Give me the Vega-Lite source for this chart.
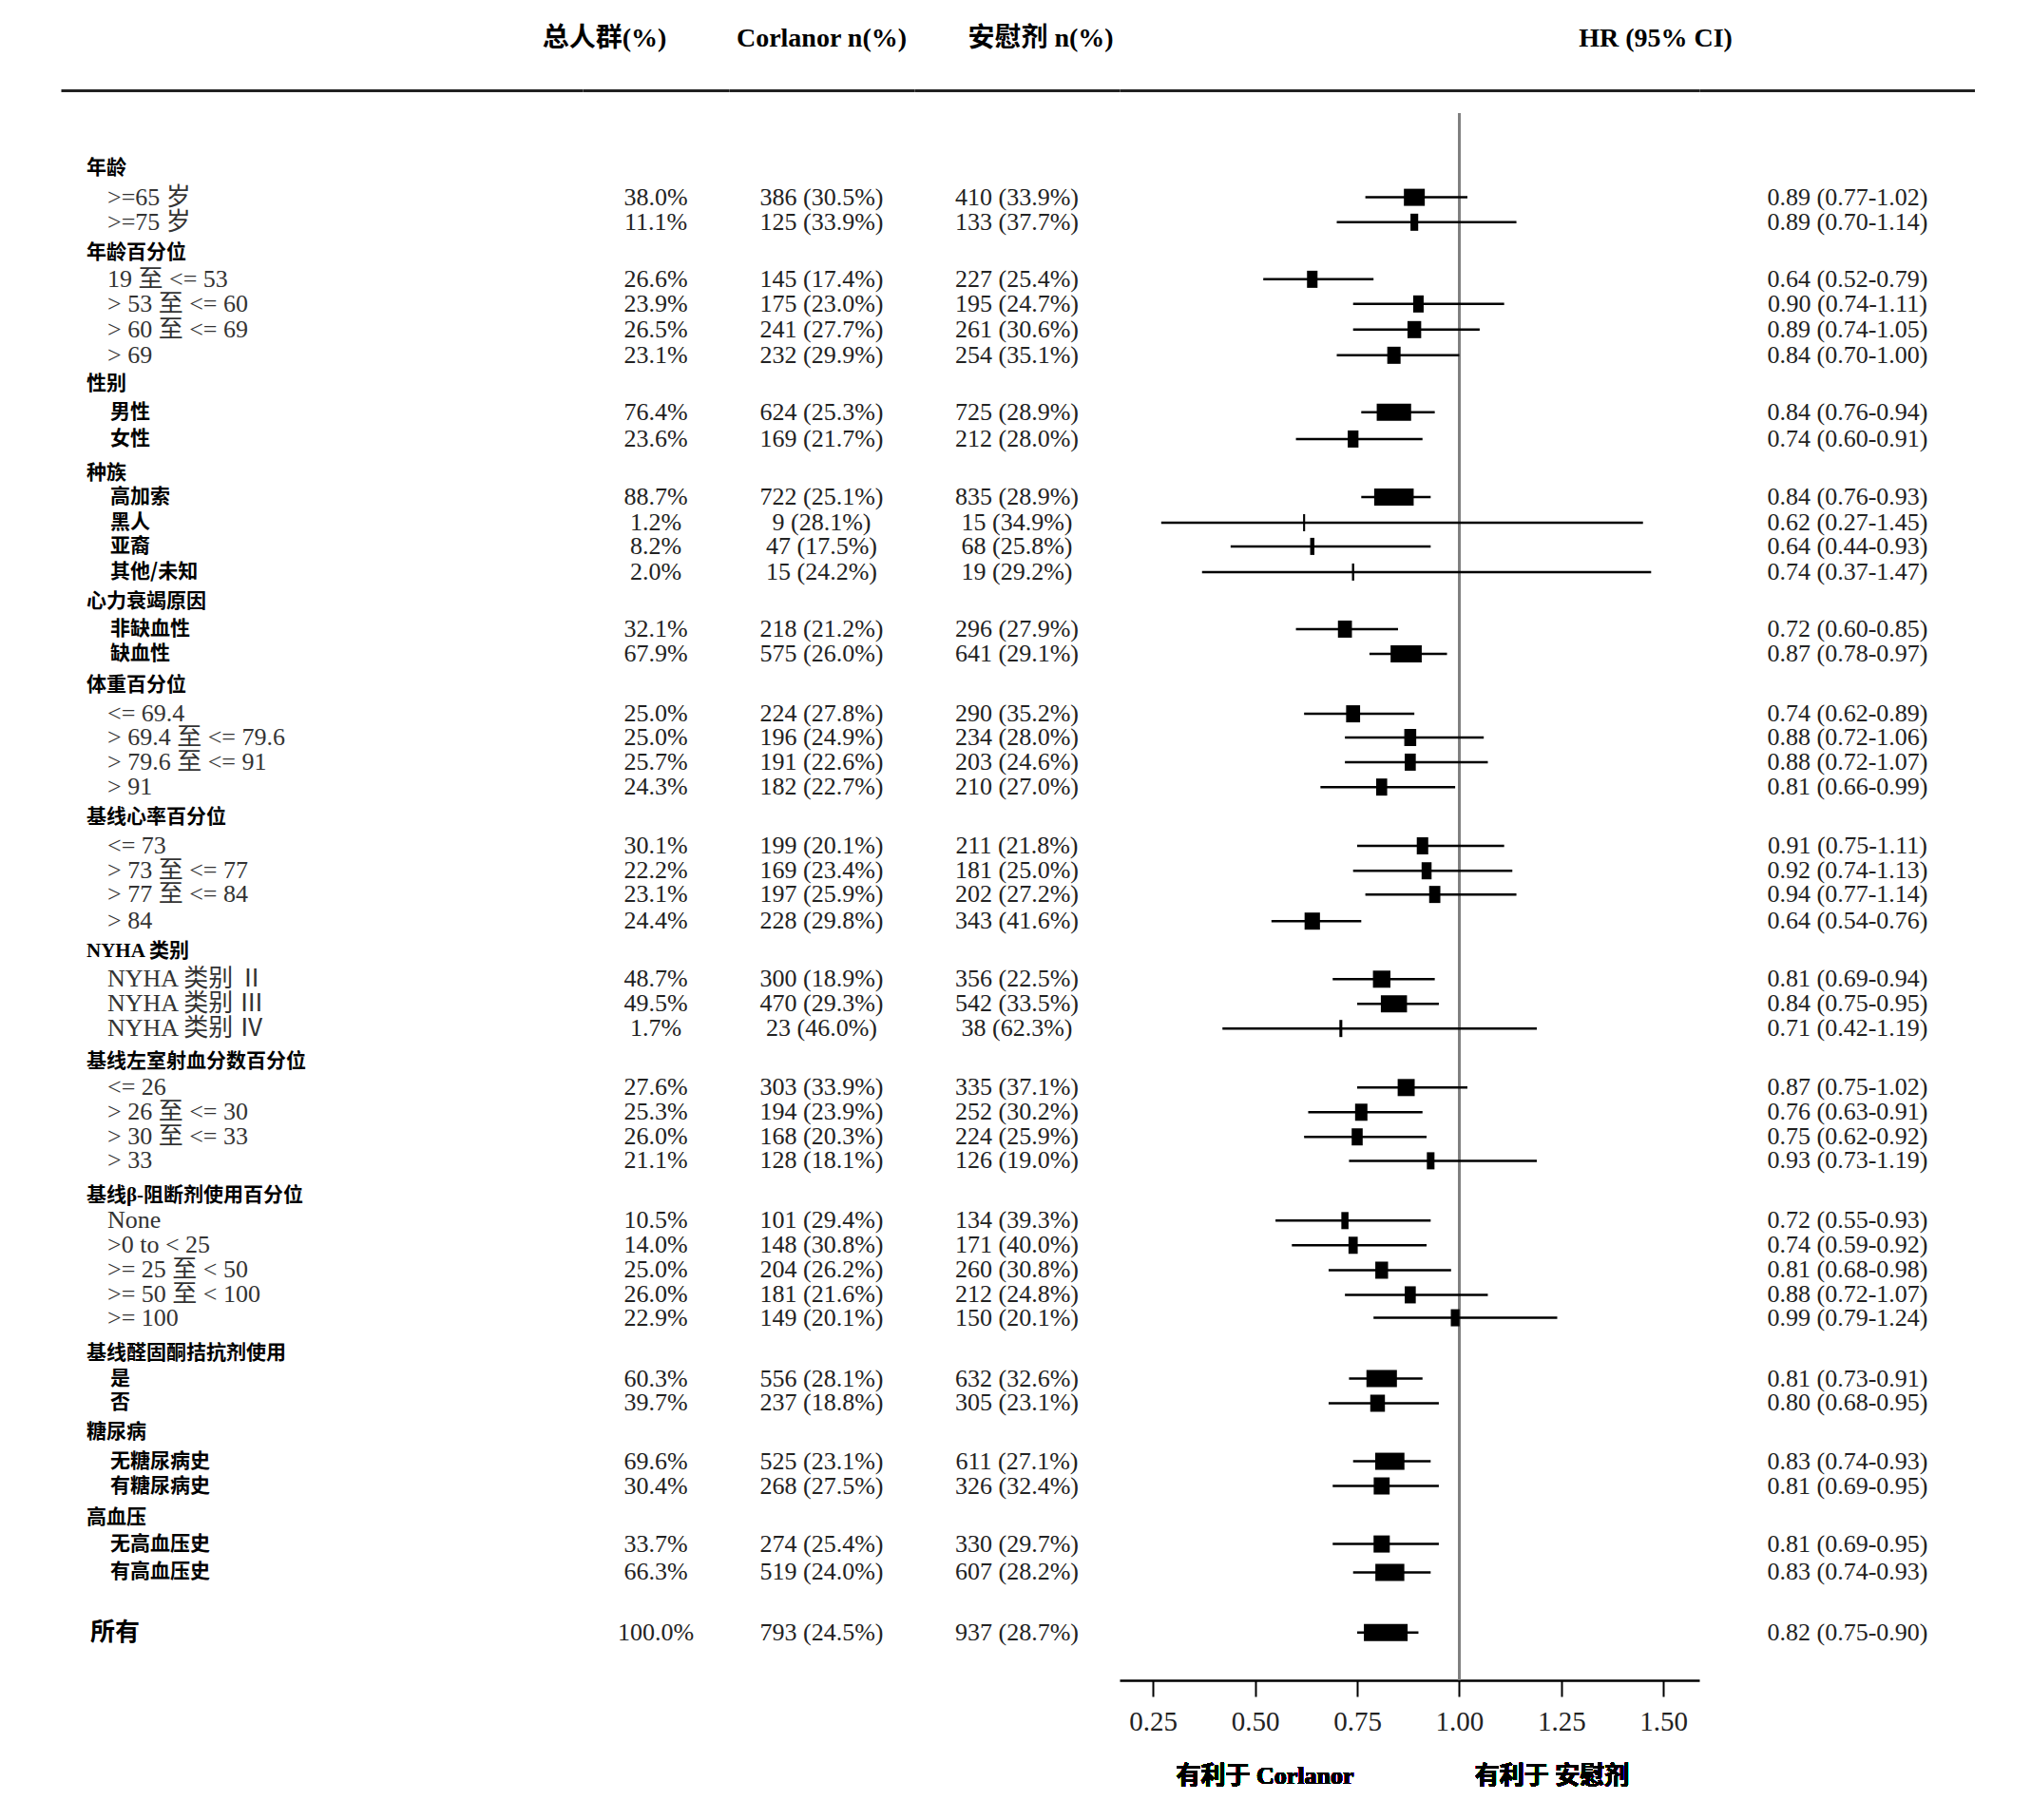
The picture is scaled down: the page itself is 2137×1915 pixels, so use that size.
{
 "$schema": "https://vega.github.io/schema/vega-lite/v6.json",
 "padding": {"left": 64, "top": 27, "right": 0, "bottom": 0},
 "background": "white",
 "spacing": 0,
 "bounds": "flush",
 "config": {"view": {"stroke": null}, "axis": {"grid": false}},
 "data": {"values": [
  {"label": "年龄", "kind": "header", "row": 0},
  {"label": ">=65 岁", "kind": "item", "row": 1.18, "total": "38.0%", "cor": "386 (30.5%)", "pla": "410 (33.9%)", "hrci": "0.89 (0.77-1.02)", "hr": 0.89, "lo": 0.77, "hi": 1.02, "ev": 796},
  {"label": ">=75 岁", "kind": "item", "row": 2.18, "total": "11.1%", "cor": "125 (33.9%)", "pla": "133 (37.7%)", "hrci": "0.89 (0.70-1.14)", "hr": 0.89, "lo": 0.70, "hi": 1.14, "ev": 258},
  {"label": "年龄百分位", "kind": "header", "row": 3.4},
  {"label": "19 至 <= 53", "kind": "item", "row": 4.47, "total": "26.6%", "cor": "145 (17.4%)", "pla": "227 (25.4%)", "hrci": "0.64 (0.52-0.79)", "hr": 0.64, "lo": 0.52, "hi": 0.79, "ev": 372},
  {"label": "> 53 至 <= 60", "kind": "item", "row": 5.46, "total": "23.9%", "cor": "175 (23.0%)", "pla": "195 (24.7%)", "hrci": "0.90 (0.74-1.11)", "hr": 0.90, "lo": 0.74, "hi": 1.11, "ev": 370},
  {"label": "> 60 至 <= 69", "kind": "item", "row": 6.49, "total": "26.5%", "cor": "241 (27.7%)", "pla": "261 (30.6%)", "hrci": "0.89 (0.74-1.05)", "hr": 0.89, "lo": 0.74, "hi": 1.05, "ev": 502},
  {"label": "> 69", "kind": "item", "row": 7.52, "total": "23.1%", "cor": "232 (29.9%)", "pla": "254 (35.1%)", "hrci": "0.84 (0.70-1.00)", "hr": 0.84, "lo": 0.70, "hi": 1.00, "ev": 486},
  {"label": "性别", "kind": "header", "row": 8.66},
  {"label": "男性", "kind": "item", "row": 9.81, "total": "76.4%", "cor": "624 (25.3%)", "pla": "725 (28.9%)", "hrci": "0.84 (0.76-0.94)", "hr": 0.84, "lo": 0.76, "hi": 0.94, "ev": 1349},
  {"label": "女性", "kind": "item", "row": 10.88, "total": "23.6%", "cor": "169 (21.7%)", "pla": "212 (28.0%)", "hrci": "0.74 (0.60-0.91)", "hr": 0.74, "lo": 0.60, "hi": 0.91, "ev": 381},
  {"label": "种族", "kind": "header", "row": 12.25},
  {"label": "高加索", "kind": "item", "row": 13.21, "total": "88.7%", "cor": "722 (25.1%)", "pla": "835 (28.9%)", "hrci": "0.84 (0.76-0.93)", "hr": 0.84, "lo": 0.76, "hi": 0.93, "ev": 1557},
  {"label": "黑人", "kind": "item", "row": 14.24, "total": "1.2%", "cor": "9 (28.1%)", "pla": "15 (34.9%)", "hrci": "0.62 (0.27-1.45)", "hr": 0.62, "lo": 0.27, "hi": 1.45, "ev": 24},
  {"label": "亚裔", "kind": "item", "row": 15.19, "total": "8.2%", "cor": "47 (17.5%)", "pla": "68 (25.8%)", "hrci": "0.64 (0.44-0.93)", "hr": 0.64, "lo": 0.44, "hi": 0.93, "ev": 115},
  {"label": "其他/未知", "kind": "item", "row": 16.22, "total": "2.0%", "cor": "15 (24.2%)", "pla": "19 (29.2%)", "hrci": "0.74 (0.37-1.47)", "hr": 0.74, "lo": 0.37, "hi": 1.47, "ev": 34},
  {"label": "心力衰竭原因", "kind": "header", "row": 17.4},
  {"label": "非缺血性", "kind": "item", "row": 18.51, "total": "32.1%", "cor": "218 (21.2%)", "pla": "296 (27.9%)", "hrci": "0.72 (0.60-0.85)", "hr": 0.72, "lo": 0.60, "hi": 0.85, "ev": 514},
  {"label": "缺血性", "kind": "item", "row": 19.5, "total": "67.9%", "cor": "575 (26.0%)", "pla": "641 (29.1%)", "hrci": "0.87 (0.78-0.97)", "hr": 0.87, "lo": 0.78, "hi": 0.97, "ev": 1216},
  {"label": "体重百分位", "kind": "header", "row": 20.76},
  {"label": "<= 69.4", "kind": "item", "row": 21.91, "total": "25.0%", "cor": "224 (27.8%)", "pla": "290 (35.2%)", "hrci": "0.74 (0.62-0.89)", "hr": 0.74, "lo": 0.62, "hi": 0.89, "ev": 514},
  {"label": "> 69.4 至 <= 79.6", "kind": "item", "row": 22.86, "total": "25.0%", "cor": "196 (24.9%)", "pla": "234 (28.0%)", "hrci": "0.88 (0.72-1.06)", "hr": 0.88, "lo": 0.72, "hi": 1.06, "ev": 430},
  {"label": "> 79.6 至 <= 91", "kind": "item", "row": 23.85, "total": "25.7%", "cor": "191 (22.6%)", "pla": "203 (24.6%)", "hrci": "0.88 (0.72-1.07)", "hr": 0.88, "lo": 0.72, "hi": 1.07, "ev": 394},
  {"label": "> 91", "kind": "item", "row": 24.85, "total": "24.3%", "cor": "182 (22.7%)", "pla": "210 (27.0%)", "hrci": "0.81 (0.66-0.99)", "hr": 0.81, "lo": 0.66, "hi": 0.99, "ev": 392},
  {"label": "基线心率百分位", "kind": "header", "row": 26.07},
  {"label": "<= 73", "kind": "item", "row": 27.21, "total": "30.1%", "cor": "199 (20.1%)", "pla": "211 (21.8%)", "hrci": "0.91 (0.75-1.11)", "hr": 0.91, "lo": 0.75, "hi": 1.11, "ev": 410},
  {"label": "> 73 至 <= 77", "kind": "item", "row": 28.21, "total": "22.2%", "cor": "169 (23.4%)", "pla": "181 (25.0%)", "hrci": "0.92 (0.74-1.13)", "hr": 0.92, "lo": 0.74, "hi": 1.13, "ev": 350},
  {"label": "> 77 至 <= 84", "kind": "item", "row": 29.16, "total": "23.1%", "cor": "197 (25.9%)", "pla": "202 (27.2%)", "hrci": "0.94 (0.77-1.14)", "hr": 0.94, "lo": 0.77, "hi": 1.14, "ev": 399},
  {"label": "> 84", "kind": "item", "row": 30.23, "total": "24.4%", "cor": "228 (29.8%)", "pla": "343 (41.6%)", "hrci": "0.64 (0.54-0.76)", "hr": 0.64, "lo": 0.54, "hi": 0.76, "ev": 571},
  {"label": "NYHA 类别", "kind": "header", "row": 31.45},
  {"label": "NYHA 类别 Ⅱ", "kind": "item", "row": 32.56, "total": "48.7%", "cor": "300 (18.9%)", "pla": "356 (22.5%)", "hrci": "0.81 (0.69-0.94)", "hr": 0.81, "lo": 0.69, "hi": 0.94, "ev": 656},
  {"label": "NYHA 类别 Ⅲ", "kind": "item", "row": 33.55, "total": "49.5%", "cor": "470 (29.3%)", "pla": "542 (33.5%)", "hrci": "0.84 (0.75-0.95)", "hr": 0.84, "lo": 0.75, "hi": 0.95, "ev": 1012},
  {"label": "NYHA 类别 Ⅳ", "kind": "item", "row": 34.54, "total": "1.7%", "cor": "23 (46.0%)", "pla": "38 (62.3%)", "hrci": "0.71 (0.42-1.19)", "hr": 0.71, "lo": 0.42, "hi": 1.19, "ev": 61},
  {"label": "基线左室射血分数百分位", "kind": "header", "row": 35.88},
  {"label": "<= 26", "kind": "item", "row": 36.91, "total": "27.6%", "cor": "303 (33.9%)", "pla": "335 (37.1%)", "hrci": "0.87 (0.75-1.02)", "hr": 0.87, "lo": 0.75, "hi": 1.02, "ev": 638},
  {"label": "> 26 至 <= 30", "kind": "item", "row": 37.9, "total": "25.3%", "cor": "194 (23.9%)", "pla": "252 (30.2%)", "hrci": "0.76 (0.63-0.91)", "hr": 0.76, "lo": 0.63, "hi": 0.91, "ev": 446},
  {"label": "> 30 至 <= 33", "kind": "item", "row": 38.89, "total": "26.0%", "cor": "168 (20.3%)", "pla": "224 (25.9%)", "hrci": "0.75 (0.62-0.92)", "hr": 0.75, "lo": 0.62, "hi": 0.92, "ev": 392},
  {"label": "> 33", "kind": "item", "row": 39.85, "total": "21.1%", "cor": "128 (18.1%)", "pla": "126 (19.0%)", "hrci": "0.93 (0.73-1.19)", "hr": 0.93, "lo": 0.73, "hi": 1.19, "ev": 254},
  {"label": "基线β-阻断剂使用百分位", "kind": "header", "row": 41.26},
  {"label": "None", "kind": "item", "row": 42.25, "total": "10.5%", "cor": "101 (29.4%)", "pla": "134 (39.3%)", "hrci": "0.72 (0.55-0.93)", "hr": 0.72, "lo": 0.55, "hi": 0.93, "ev": 235},
  {"label": ">0 to < 25", "kind": "item", "row": 43.24, "total": "14.0%", "cor": "148 (30.8%)", "pla": "171 (40.0%)", "hrci": "0.74 (0.59-0.92)", "hr": 0.74, "lo": 0.59, "hi": 0.92, "ev": 319},
  {"label": ">= 25 至 < 50", "kind": "item", "row": 44.24, "total": "25.0%", "cor": "204 (26.2%)", "pla": "260 (30.8%)", "hrci": "0.81 (0.68-0.98)", "hr": 0.81, "lo": 0.68, "hi": 0.98, "ev": 464},
  {"label": ">= 50 至 < 100", "kind": "item", "row": 45.23, "total": "26.0%", "cor": "181 (21.6%)", "pla": "212 (24.8%)", "hrci": "0.88 (0.72-1.07)", "hr": 0.88, "lo": 0.72, "hi": 1.07, "ev": 393},
  {"label": ">= 100", "kind": "item", "row": 46.15, "total": "22.9%", "cor": "149 (20.1%)", "pla": "150 (20.1%)", "hrci": "0.99 (0.79-1.24)", "hr": 0.99, "lo": 0.79, "hi": 1.24, "ev": 299},
  {"label": "基线醛固酮拮抗剂使用", "kind": "header", "row": 47.56},
  {"label": "是", "kind": "item", "row": 48.59, "total": "60.3%", "cor": "556 (28.1%)", "pla": "632 (32.6%)", "hrci": "0.81 (0.73-0.91)", "hr": 0.81, "lo": 0.73, "hi": 0.91, "ev": 1188},
  {"label": "否", "kind": "item", "row": 49.58, "total": "39.7%", "cor": "237 (18.8%)", "pla": "305 (23.1%)", "hrci": "0.80 (0.68-0.95)", "hr": 0.80, "lo": 0.68, "hi": 0.95, "ev": 542},
  {"label": "糖尿病", "kind": "header", "row": 50.76},
  {"label": "无糖尿病史", "kind": "item", "row": 51.91, "total": "69.6%", "cor": "525 (23.1%)", "pla": "611 (27.1%)", "hrci": "0.83 (0.74-0.93)", "hr": 0.83, "lo": 0.74, "hi": 0.93, "ev": 1136},
  {"label": "有糖尿病史", "kind": "item", "row": 52.9, "total": "30.4%", "cor": "268 (27.5%)", "pla": "326 (32.4%)", "hrci": "0.81 (0.69-0.95)", "hr": 0.81, "lo": 0.69, "hi": 0.95, "ev": 594},
  {"label": "高血压", "kind": "header", "row": 54.16},
  {"label": "无高血压史", "kind": "item", "row": 55.23, "total": "33.7%", "cor": "274 (25.4%)", "pla": "330 (29.7%)", "hrci": "0.81 (0.69-0.95)", "hr": 0.81, "lo": 0.69, "hi": 0.95, "ev": 604},
  {"label": "有高血压史", "kind": "item", "row": 56.37, "total": "66.3%", "cor": "519 (24.0%)", "pla": "607 (28.2%)", "hrci": "0.83 (0.74-0.93)", "hr": 0.83, "lo": 0.74, "hi": 0.93, "ev": 1126},
  {"label": "所有", "kind": "total", "row": 58.78, "total": "100.0%", "cor": "793 (24.5%)", "pla": "937 (28.7%)", "hrci": "0.82 (0.75-0.90)", "hr": 0.82, "lo": 0.75, "hi": 0.90, "ev": 1730}
 ]},
 "hconcat": [
  {
   "width": 549, "height": 1649,
   "encoding": {
    "x": {"datum": 0, "type": "quantitative", "scale": {"domain": [0, 1], "nice": false, "zero": false},
          "axis": {"orient": "top", "offset": 24, "domain": true, "domainColor": "#222", "domainWidth": 3, "ticks": false, "labels": false, "title": null, "grid": false}},
    "y": {"field": "row", "type": "quantitative", "scale": {"domain": [-2.2, 60.7], "reverse": true, "nice": false, "zero": false}, "axis": null}
   },
   "layer": [
    {"transform": [{"filter": "datum.kind == 'header'"}],
     "mark": {"type": "text", "align": "left", "baseline": "middle", "dx": 27, "font": "Liberation Serif, Noto Sans CJK SC", "fontSize": 21, "fontWeight": "bold", "color": "black"},
     "encoding": {"text": {"field": "label"}}},
    {"transform": [{"filter": "datum.kind == 'total'"}],
     "mark": {"type": "text", "align": "left", "baseline": "middle", "dx": 31, "font": "Noto Sans CJK SC", "fontSize": 26, "fontWeight": "bold", "color": "black"},
     "encoding": {"text": {"field": "label"}}},
    {"transform": [{"filter": "datum.kind == 'item' && !test(regexp('[0-9A-Za-z<>=]'), datum.label)"}],
     "mark": {"type": "text", "align": "left", "baseline": "middle", "dx": 52, "font": "Noto Sans CJK SC", "fontSize": 21, "fontWeight": "bold", "color": "black"},
     "encoding": {"text": {"field": "label"}}},
    {"transform": [{"filter": "datum.kind == 'item' && test(regexp('[0-9A-Za-z<>=]'), datum.label)"}],
     "mark": {"type": "text", "align": "left", "baseline": "middle", "dx": 49, "font": "Liberation Serif, Noto Sans CJK SC", "fontSize": 26, "color": "#333"},
     "encoding": {"text": {"field": "label"}}}
   ]
  },
  {
   "width": 154, "height": 1649,
   "title": {"text": "总人群(%)", "anchor": "middle", "dx": -54, "offset": 40, "font": "Liberation Serif, Noto Sans CJK SC", "fontSize": 28, "fontWeight": "bold", "color": "black"},
   "transform": [{"filter": "isValid(datum.total)"}],
   "mark": {"type": "text", "align": "center", "baseline": "middle", "font": "Liberation Serif", "fontSize": 26, "color": "#222"},
   "encoding": {
    "x": {"datum": 0.5, "type": "quantitative", "scale": {"domain": [0, 1], "nice": false, "zero": false},
          "axis": {"orient": "top", "offset": 24, "domain": true, "domainColor": "#222", "domainWidth": 3, "ticks": false, "labels": false, "title": null, "grid": false}},
    "y": {"field": "row", "type": "quantitative", "scale": {"domain": [-2.2, 60.7], "reverse": true, "nice": false, "zero": false}, "axis": null},
    "text": {"field": "total"}
   }
  },
  {
   "width": 195, "height": 1649,
   "title": {"text": "Corlanor n(%)", "anchor": "middle", "dx": 0, "offset": 40, "font": "Liberation Serif, Noto Sans CJK SC", "fontSize": 28, "fontWeight": "bold", "color": "black"},
   "transform": [{"filter": "isValid(datum.cor)"}],
   "mark": {"type": "text", "align": "center", "baseline": "middle", "font": "Liberation Serif", "fontSize": 26, "color": "#222"},
   "encoding": {
    "x": {"datum": 0.5, "type": "quantitative", "scale": {"domain": [0, 1], "nice": false, "zero": false},
          "axis": {"orient": "top", "offset": 24, "domain": true, "domainColor": "#222", "domainWidth": 3, "ticks": false, "labels": false, "title": null, "grid": false}},
    "y": {"field": "row", "type": "quantitative", "scale": {"domain": [-2.2, 60.7], "reverse": true, "nice": false, "zero": false}, "axis": null},
    "text": {"field": "cor"}
   }
  },
  {
   "width": 216, "height": 1649,
   "title": {"text": "安慰剂  n(%)", "anchor": "middle", "dx": 25, "offset": 40, "font": "Liberation Serif, Noto Sans CJK SC", "fontSize": 28, "fontWeight": "bold", "color": "black"},
   "transform": [{"filter": "isValid(datum.pla)"}],
   "mark": {"type": "text", "align": "center", "baseline": "middle", "font": "Liberation Serif", "fontSize": 26, "color": "#222"},
   "encoding": {
    "x": {"datum": 0.5, "type": "quantitative", "scale": {"domain": [0, 1], "nice": false, "zero": false},
          "axis": {"orient": "top", "offset": 24, "domain": true, "domainColor": "#222", "domainWidth": 3, "ticks": false, "labels": false, "title": null, "grid": false}},
    "y": {"field": "row", "type": "quantitative", "scale": {"domain": [-2.2, 60.7], "reverse": true, "nice": false, "zero": false}, "axis": null},
    "text": {"field": "pla"}
   }
  },
  {
   "width": 610, "height": 1649,
   "resolve": {"axis": {"x": "independent"}},
   "layer": [
    {"mark": {"type": "rule", "color": "#808080", "strokeWidth": 1.5},
     "encoding": {
      "x": {"datum": 1, "type": "quantitative", "scale": {"domain": [0.168, 1.588], "nice": false, "zero": false},
            "axis": {"orient": "top", "offset": 24, "domain": true, "domainColor": "#222", "domainWidth": 3, "ticks": false, "labels": false, "title": null, "grid": false}}
     }},
    {"transform": [{"filter": "isValid(datum.hr)"}],
     "mark": {"type": "rule", "color": "black", "strokeWidth": 2.5},
     "encoding": {
      "x": {"field": "lo", "type": "quantitative", "scale": {"domain": [0.168, 1.588], "nice": false, "zero": false},
            "axis": {"orient": "bottom", "values": [0.25, 0.5, 0.75, 1, 1.25, 1.5], "format": ".2f", "domain": true, "domainColor": "black", "domainWidth": 2.5, "ticks": true, "tickColor": "black", "tickWidth": 2, "tickSize": 17, "labelFont": "Liberation Serif", "labelFontSize": 29, "labelColor": "#222", "labelPadding": 12, "labelFlush": false, "title": null, "grid": false}},
      "x2": {"field": "hi"},
      "y": {"field": "row", "type": "quantitative", "scale": {"domain": [-2.2, 60.7], "reverse": true, "nice": false, "zero": false}, "axis": null}
     }},
    {"transform": [{"filter": "isValid(datum.hr)"}],
     "mark": {"type": "rule", "color": "black", "yOffset": -9, "y2Offset": 9, "strokeCap": "butt"},
     "encoding": {
      "x": {"field": "hr", "type": "quantitative", "scale": {"domain": [0.168, 1.588], "nice": false, "zero": false}, "axis": null},
      "y": {"field": "row", "type": "quantitative", "scale": {"domain": [-2.2, 60.7], "reverse": true, "nice": false, "zero": false}, "axis": null},
      "y2": {"field": "row"},
      "strokeWidth": {"field": "ev", "type": "quantitative", "scale": {"domain": [0, 1730], "range": [1.5, 46], "zero": false, "nice": false}, "legend": null}
     }},
    {"mark": {"type": "text", "align": "center", "baseline": "middle", "font": "Liberation Serif, Noto Sans CJK SC", "fontSize": 26, "fontWeight": "bold", "color": "black"},
     "encoding": {
      "x": {"datum": 0.524, "type": "quantitative", "scale": {"domain": [0.168, 1.588], "nice": false, "zero": false}, "axis": null},
      "y": {"datum": 64.55, "type": "quantitative", "scale": {"domain": [-2.2, 60.7], "reverse": true, "nice": false, "zero": false}, "axis": null},
      "text": {"value": "有利于 Corlanor"}
     }},
    {"mark": {"type": "text", "align": "center", "baseline": "middle", "font": "Liberation Serif, Noto Sans CJK SC", "fontSize": 26, "fontWeight": "bold", "color": "black"},
     "encoding": {
      "x": {"datum": 1.227, "type": "quantitative", "scale": {"domain": [0.168, 1.588], "nice": false, "zero": false}, "axis": null},
      "y": {"datum": 64.55, "type": "quantitative", "scale": {"domain": [-2.2, 60.7], "reverse": true, "nice": false, "zero": false}, "axis": null},
      "text": {"value": "有利于  安慰剂"}
     }}
   ]
  },
  {
   "width": 290, "height": 1649,
   "title": {"text": "HR (95% CI)", "anchor": "middle", "dx": -191, "offset": 40, "font": "Liberation Serif, Noto Sans CJK SC", "fontSize": 28, "fontWeight": "bold", "color": "black"},
   "transform": [{"filter": "isValid(datum.hrci)"}],
   "mark": {"type": "text", "align": "center", "baseline": "middle", "dx": 11, "font": "Liberation Serif", "fontSize": 26, "color": "#222"},
   "encoding": {
    "x": {"datum": 0.5, "type": "quantitative", "scale": {"domain": [0, 1], "nice": false, "zero": false},
          "axis": {"orient": "top", "offset": 24, "domain": true, "domainColor": "#222", "domainWidth": 3, "ticks": false, "labels": false, "title": null, "grid": false}},
    "y": {"field": "row", "type": "quantitative", "scale": {"domain": [-2.2, 60.7], "reverse": true, "nice": false, "zero": false}, "axis": null},
    "text": {"field": "hrci"}
   }
  }
 ]
}
